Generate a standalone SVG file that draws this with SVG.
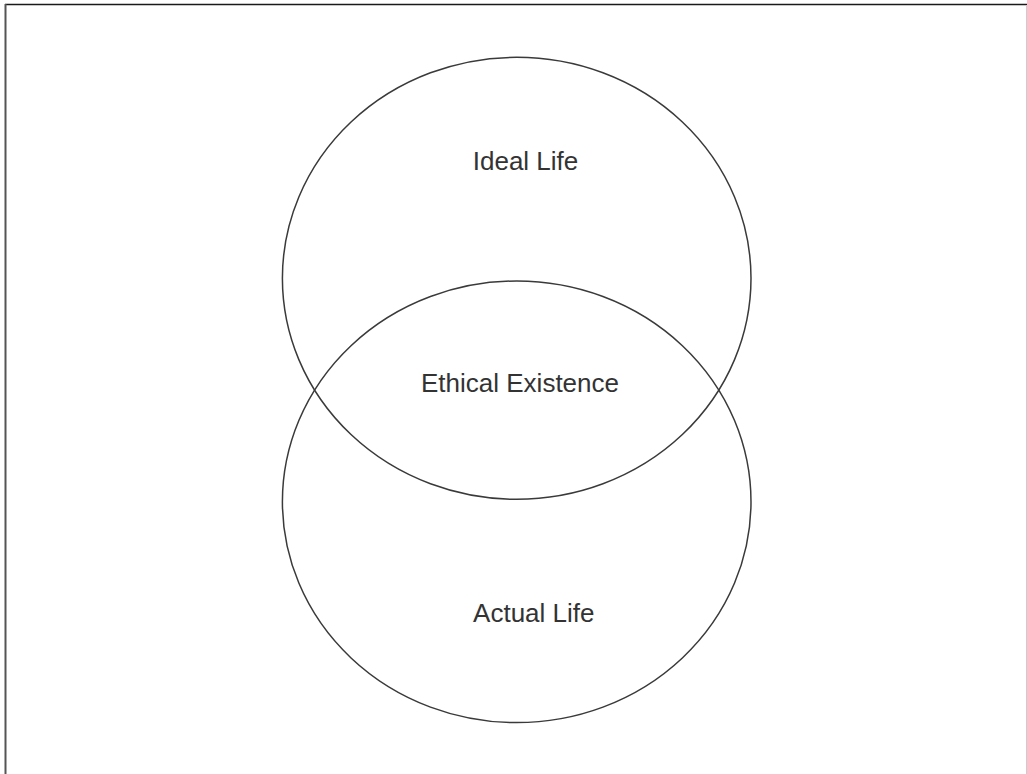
<svg xmlns="http://www.w3.org/2000/svg" width="1027" height="774" viewBox="0 0 1027 774">
<style>
.c{fill:none;stroke:#3a3a3a;stroke-width:1.5}
.t{font-family:"Liberation Sans",Arial,sans-serif;font-size:26px;fill:#333;text-anchor:middle}
</style>
<rect width="1027" height="774" fill="#fff"/>
<g id="frame">
<line x1="5" y1="4.5" x2="1027" y2="4.5" stroke="#1a1a1a" stroke-width="1.5"/>
<line x1="5.5" y1="4" x2="5.5" y2="774" stroke="#555" stroke-width="2"/>
<line x1="1026.5" y1="5" x2="1026.5" y2="774" stroke="#ccc" stroke-width="1"/>
</g>
<g id="ideal">
<ellipse class="c" cx="516.7" cy="278.3" rx="234.3" ry="221"/>
<text class="t" x="525.5" y="170">Ideal Life</text>
</g>
<g id="actual">
<ellipse class="c" cx="516.7" cy="501.8" rx="234.3" ry="220.8"/>
<text class="t" x="533.8" y="621.7">Actual Life</text>
</g>
<g id="ethical">
<text class="t" x="520" y="391.7">Ethical Existence</text>
</g>
<g id="connectors"/>
</svg>
